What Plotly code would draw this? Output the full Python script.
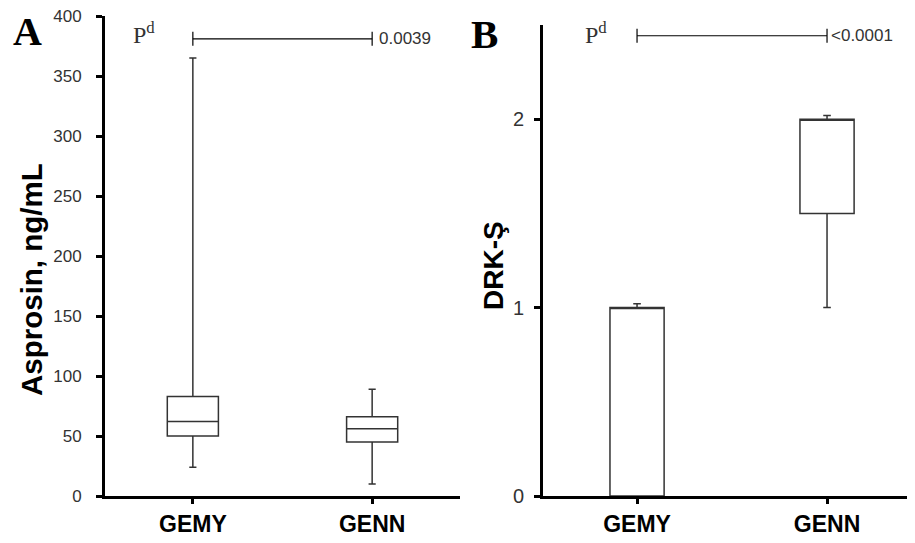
import plotly.graph_objects as go

# ---- data ----
groups = ["GEMY", "GENN"]

# Panel A: Asprosin, ng/mL (box summary)
a_q1 = [50, 45]
a_median = [62, 56]
a_q3 = [83, 66]
a_low = [24, 10]
a_high = [365, 89]
a_p_level = 381
a_p_text = "0.0039"

# Panel B: DRK-Ş (box summary)
b_q1 = [0, 1.5]
b_median = [1, 2]
b_q3 = [1, 2]
b_low = [0, 1]
b_high = [1.02, 2.02]
b_p_level = 2.443
b_p_text = "<0.0001"

a_yticks = [0, 50, 100, 150, 200, 250, 300, 350, 400]
b_yticks = [0, 1, 2]

W, H = 915, 543
OFF = 8  # page body margin
def px(x):
    return (x - OFF) / W
def py(y):
    return 1 - (y - OFF) / H

box_style = dict(fillcolor="white", line=dict(color="#333333", width=1.5),
                 whiskerwidth=0.14, width=0.285, boxpoints=False, showlegend=False)

fig = go.Figure()
fig.add_trace(go.Box(x=groups, q1=a_q1, median=a_median, q3=a_q3,
                     lowerfence=a_low, upperfence=a_high,
                     xaxis="x", yaxis="y", **box_style))
fig.add_trace(go.Box(x=groups, q1=b_q1, median=b_median, q3=b_q3,
                     lowerfence=b_low, upperfence=b_high,
                     xaxis="x2", yaxis="y2", **box_style))

pbar = dict(mode="lines+markers", line=dict(color="black", width=1.2),
            marker=dict(symbol="line-ns-open", size=10,
                        line=dict(color="black", width=1.2)),
            showlegend=False, hoverinfo="skip")
fig.add_trace(go.Scatter(x=groups, y=[a_p_level, a_p_level], xaxis="x", yaxis="y", **pbar))
fig.add_trace(go.Scatter(x=groups, y=[b_p_level, b_p_level], xaxis="x2", yaxis="y2", **pbar))

xcommon = dict(type="category", showline=True, linecolor="black", linewidth=3,
               ticks="outside", ticklen=5, tickwidth=3, tickcolor="black",
               showgrid=False, zeroline=False, automargin=False,
               tickfont=dict(family="Liberation Sans", size=23, color="black"))
ycommon = dict(showline=True, linecolor="black", linewidth=3,
               ticks="outside", ticklen=6, tickwidth=3, tickcolor="black",
               showgrid=False, zeroline=False, automargin=False,
               ticklabeloverflow="allow")

ybot = py(496)
fig.update_layout(
    width=W, height=H,
    margin=dict(l=0, r=0, t=0, b=0),
    plot_bgcolor="white", paper_bgcolor="white",
    boxmode="overlay",
    xaxis=dict(domain=[px(105), px(460)], range=[-0.49, 1.49],
               tickvals=groups, ticktext=[f"<b>{g}</b>" for g in groups], anchor="y", **xcommon),
    yaxis=dict(domain=[ybot, py(16)], range=[0, 400], tickvals=a_yticks, anchor="x",
               ticklabelstandoff=11,
               tickfont=dict(family="Liberation Sans", size=17, color="#333333"), **ycommon),
    xaxis2=dict(domain=[px(543), px(915)], range=[-0.495, 1.463],
                tickvals=groups, ticktext=[f"<b>{g}</b>" for g in groups], anchor="y2", **xcommon),
    yaxis2=dict(domain=[ybot, py(25)], range=[0, 2.5], tickvals=b_yticks, anchor="x2",
                ticklabelstandoff=6,
                tickfont=dict(family="Liberation Sans", size=20, color="#333333"), **ycommon),
)

def note(text, x, y, size, family="Liberation Sans", color="black", angle=0):
    return dict(text=text, x=px(x), y=py(y), xref="paper", yref="paper",
                xanchor="center", yanchor="middle", textangle=angle, showarrow=False,
                font=dict(family=family, size=size, color=color))

ann = [
    note("<b>A</b>", 27, 31, 40, family="Liberation Serif"),
    note("<b>B</b>", 485, 34, 41, family="Liberation Serif"),
    note("<b>Asprosin, ng/mL</b>", 31, 280, 29.5, angle=-90),
    note("<b>DRK-Ş</b>", 493, 266, 28, angle=-90),
    note("P<sup>d</sup>", 144, 33, 24, family="Liberation Serif", color="#333333"),
    note("P<sup>d</sup>", 596, 33, 24, family="Liberation Serif", color="#333333"),
]
# p values
ann.append(dict(text=a_p_text, x="GENN", y=a_p_level, xref="x", yref="y", xanchor="left",
                yanchor="middle", xshift=5, showarrow=False,
                font=dict(family="Liberation Sans", size=17, color="#333333")))
ann.append(dict(text=b_p_text, x="GENN", y=b_p_level, xref="x2", yref="y2", xanchor="left",
                yanchor="middle", xshift=2, showarrow=False,
                font=dict(family="Liberation Sans", size=17, color="#333333")))
fig.update_layout(annotations=ann)

fig.write_html("out.html")
